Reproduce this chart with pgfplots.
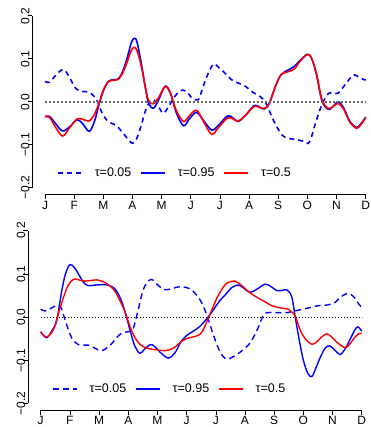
\documentclass[border=0pt]{standalone}
\usepackage{fontspec}
\setmainfont{Liberation Sans}
\usepackage{pgfplots}
\pgfplotsset{compat=1.18}
\definecolor{rblue}{RGB}{0,0,255}
\definecolor{rred}{RGB}{255,0,0}
\pgfplotsset{rstyle/.style={
  scale only axis, xmin=-0.44, xmax=11.44, ymin=-0.216, ymax=0.216,
  axis line style={draw=none},
  xtick={0,...,11}, xticklabels={J,F,M,A,M,J,J,A,S,O,N,D},
  ytick={-0.2,-0.1,0,0.1,0.2}, yticklabels={−0.2,−0.1,0.0,0.1,0.2},
  xtick pos=left, ytick pos=left, tick align=outside, major tick length=4.5pt,
  tick style={black, line width=0.6pt},
  xticklabel shift=1pt, yticklabel shift=-3pt,
  xticklabel style={font=\fontsize{12}{14}\selectfont, inner sep=0.5pt, text depth=0pt},
  yticklabel style={font=\fontsize{12}{14}\selectfont, rotate=90, anchor=south, inner sep=1pt},
  clip=false,
  legend columns=3,
  legend image code/.code={\draw[##1] (0pt,0pt) -- (24pt,0pt);},
  legend style={draw=none, fill=none, inner sep=0pt, anchor=west,
    font=\fontsize{12.5}{14}\selectfont,
    /tikz/every even column/.append style={column sep=7pt},
    /tikz/every odd column/.append style={column sep=10pt}},
}}
\begin{document}
\begin{tikzpicture}[x=1pt,y=1pt]
% ---------------- top panel
\begin{axis}[rstyle, at={(32.2pt,232.4pt)}, anchor=south west, width=346.3pt, height=185.8pt,
  legend style={at={(axis cs:0.41,-0.166)}}]
\addplot[rblue, line width=1.6pt, dash pattern=on 5pt off 4pt, smooth, tension=0.55] coordinates {
(0,0.047) (0.15,0.045) (0.35,0.06) (0.63,0.075) (0.85,0.055) (1.05,0.031) (1.25,0.024)
(1.45,0.023) (1.65,0.015) (1.8,0.0) (1.95,-0.025) (2.15,-0.045) (2.45,-0.056) (2.7,-0.075)
(2.92,-0.093) (3.03,-0.096) (3.15,-0.085) (3.3,-0.055) (3.45,-0.02) (3.6,0.0) (3.75,0.003)
(3.9,-0.012) (4.06,-0.027) (4.25,-0.01) (4.45,0.012) (4.65,0.026) (4.85,0.024) (5.05,0.008)
(5.26,0.005) (5.4,0.03) (5.55,0.058) (5.77,0.087) (5.95,0.08) (6.15,0.068) (6.46,0.048)
(6.8,0.039) (7.15,0.021) (7.38,0.012) (7.55,0.0) (7.7,-0.022) (7.85,-0.045) (8.12,-0.077)
(8.35,-0.085) (8.69,-0.089) (8.9,-0.093) (9.03,-0.097) (9.15,-0.08) (9.26,-0.054) (9.49,-0.008)
(9.72,0.019) (9.9,0.02) (10.06,0.02) (10.3,0.04) (10.58,0.062) (10.8,0.055) (11,0.05)};
\addlegendentry{τ=0.05}
\addplot[rblue, line width=1.6pt, smooth, tension=0.55] coordinates {
(0,-0.035) (0.15,-0.034) (0.35,-0.05) (0.6,-0.068) (0.85,-0.058) (1.1,-0.042) (1.3,-0.052)
(1.52,-0.069) (1.7,-0.045) (1.83,-0.012) (2.0,0.025) (2.17,0.047) (2.35,0.051) (2.51,0.053)
(2.65,0.068) (2.8,0.097) (2.95,0.135) (3.05,0.147) (3.15,0.14) (3.3,0.09) (3.45,0.03)
(3.55,-0.003) (3.72,-0.015) (3.9,0.005) (4.12,0.036) (4.3,0.02) (4.5,-0.025) (4.75,-0.056)
(4.95,-0.04) (5.2,-0.025) (5.45,-0.045) (5.72,-0.066) (5.95,-0.055) (6.26,-0.033) (6.45,-0.038)
(6.63,-0.046) (6.9,-0.03) (7.15,-0.01) (7.3,-0.01) (7.52,-0.017) (7.7,-0.002) (7.9,0.035)
(8.1,0.063) (8.35,0.074) (8.55,0.082) (8.75,0.096) (9.0,0.11) (9.15,0.1) (9.32,0.06)
(9.5,0.002) (9.72,-0.018) (9.9,-0.01) (10.06,0.0) (10.25,-0.015) (10.45,-0.045) (10.69,-0.06)
(10.85,-0.05) (11,-0.036)};
\addlegendentry{τ=0.95}
\addplot[rred, line width=1.6pt, smooth, tension=0.55] coordinates {
(0,-0.035) (0.15,-0.036) (0.35,-0.058) (0.6,-0.08) (0.85,-0.06) (1.1,-0.04) (1.3,-0.041)
(1.5,-0.045) (1.65,-0.035) (1.83,-0.008) (2.0,0.027) (2.17,0.046) (2.35,0.05) (2.51,0.052)
(2.65,0.065) (2.8,0.089) (2.95,0.118) (3.05,0.126) (3.15,0.12) (3.3,0.083) (3.45,0.03)
(3.55,0.003) (3.7,-0.005) (3.9,0.01) (4.12,0.035) (4.3,0.02) (4.5,-0.02) (4.75,-0.046)
(4.95,-0.033) (5.2,-0.02) (5.45,-0.048) (5.72,-0.076) (5.95,-0.06) (6.26,-0.038) (6.45,-0.04)
(6.63,-0.045) (6.9,-0.03) (7.15,-0.012) (7.3,-0.012) (7.52,-0.016) (7.7,-0.004) (7.9,0.035)
(8.1,0.063) (8.35,0.07) (8.55,0.076) (8.75,0.094) (9.0,0.11) (9.15,0.1) (9.32,0.063)
(9.5,0.005) (9.72,-0.016) (9.9,-0.01) (10.06,-0.004) (10.25,-0.018) (10.45,-0.047) (10.69,-0.062)
(10.85,-0.052) (11,-0.037)};
\addlegendentry{τ=0.5}
\addplot[black!60, line width=2pt, dash pattern=on 2pt off 2pt, forget plot] coordinates {(0,0) (11,0)};
\draw[line width=0.6pt] (axis cs:0,-0.216) -- (axis cs:11,-0.216);
\draw[line width=0.6pt] (axis cs:-0.44,-0.2) -- (axis cs:-0.44,0.2);
\end{axis}
% ---------------- bottom panel
\begin{axis}[rstyle, at={(27.86pt,16.7pt)}, anchor=south west, width=346.7pt, height=186.6pt,
  legend style={at={(axis cs:0.39,-0.167)}}]
\addplot[rblue, line width=1.4pt, dash pattern=on 6pt off 4pt, smooth, tension=0.55] coordinates {
(0,0.018) (0.15,0.014) (0.35,0.02) (0.6,0.028) (0.72,0.018) (0.85,-0.01) (1.06,-0.048)
(1.29,-0.064) (1.5,-0.065) (1.63,-0.065) (1.85,-0.072) (2.09,-0.078) (2.37,-0.066) (2.6,-0.048)
(2.78,-0.037) (3.0,-0.034) (3.15,-0.03) (3.3,0.005) (3.5,0.06) (3.65,0.08) (3.8,0.087)
(4.0,0.075) (4.2,0.064) (4.4,0.064) (4.77,0.07) (5.12,0.065) (5.35,0.05) (5.5,0.035)
(5.69,0.005) (5.92,-0.042) (6.14,-0.08) (6.35,-0.097) (6.6,-0.092) (6.9,-0.078) (7.1,-0.066)
(7.29,-0.047) (7.45,-0.025) (7.6,0.0) (7.74,0.01) (8.03,0.01) (8.43,0.01) (8.77,0.015)
(9.12,0.02) (9.5,0.026) (9.85,0.028) (10.05,0.032) (10.3,0.047) (10.54,0.055) (10.75,0.045)
(10.9,0.03) (11,0.022)};
\addlegendentry{τ=0.05}
\addplot[rblue, line width=1.4pt, smooth, tension=0.55] coordinates {
(0,-0.034) (0.2,-0.048) (0.4,-0.03) (0.55,-0.008) (0.72,0.06) (0.85,0.1) (1.0,0.121)
(1.15,0.115) (1.29,0.1) (1.45,0.082) (1.6,0.073) (1.9,0.074) (2.2,0.075) (2.45,0.07)
(2.6,0.06) (2.78,0.035) (2.95,-0.003) (3.1,-0.04) (3.23,-0.068) (3.4,-0.084) (3.55,-0.075)
(3.75,-0.064) (3.9,-0.068) (4.1,-0.082) (4.37,-0.095) (4.6,-0.083) (4.8,-0.058) (5.0,-0.043)
(5.2,-0.034) (5.45,-0.022) (5.74,0.0) (5.95,0.02) (6.14,0.038) (6.32,0.051) (6.55,0.068)
(6.77,0.074) (6.97,0.066) (7.17,0.057) (7.4,0.064) (7.69,0.076) (7.9,0.07) (8.09,0.061)
(8.25,0.061) (8.43,0.063) (8.6,0.047) (8.72,0.0) (8.85,-0.05) (9.0,-0.1) (9.15,-0.13)
(9.29,-0.138) (9.43,-0.118) (9.57,-0.095) (9.75,-0.072) (9.9,-0.067) (10.1,-0.078)
(10.26,-0.087) (10.45,-0.072) (10.6,-0.052) (10.8,-0.026) (10.9,-0.024) (11,-0.033)};
\addlegendentry{τ=0.95}
\addplot[rred, line width=1.4pt, smooth, tension=0.55] coordinates {
(0,-0.035) (0.2,-0.046) (0.43,-0.03) (0.66,0.02) (0.89,0.066) (1.05,0.083) (1.18,0.088)
(1.35,0.085) (1.52,0.083) (1.75,0.085) (1.92,0.086) (2.2,0.08) (2.4,0.07) (2.55,0.059)
(2.72,0.037) (2.89,0.012) (3.05,-0.02) (3.23,-0.048) (3.4,-0.063) (3.52,-0.069) (3.75,-0.074)
(4.0,-0.076) (4.26,-0.078) (4.55,-0.072) (4.83,-0.056) (5.0,-0.05) (5.23,-0.046) (5.46,-0.04)
(5.6,-0.025) (5.74,-0.003) (5.9,0.022) (6.03,0.043) (6.2,0.063) (6.37,0.078) (6.66,0.083)
(6.9,0.072) (7.17,0.056) (7.4,0.046) (7.69,0.035) (7.9,0.027) (8.14,0.022) (8.49,0.018)
(8.6,0.012) (8.72,0.003) (8.89,-0.03) (9.06,-0.05) (9.29,-0.063) (9.45,-0.058) (9.65,-0.045)
(9.8,-0.039) (9.95,-0.045) (10.14,-0.058) (10.43,-0.071) (10.6,-0.062) (10.75,-0.048)
(10.9,-0.039) (11,-0.038)};
\addlegendentry{τ=0.5}
\addplot[black, line width=0.9pt, dash pattern=on 1.3pt off 1.7pt, forget plot] coordinates {(0,0) (11,0)};
\draw[line width=0.6pt] (axis cs:0,-0.216) -- (axis cs:11,-0.216);
\draw[line width=0.6pt] (axis cs:-0.44,-0.2) -- (axis cs:-0.44,0.2);
\end{axis}
\pgfresetboundingbox
\useasboundingbox (0pt,0pt) rectangle (370pt,427pt);
\end{tikzpicture}
\end{document}
